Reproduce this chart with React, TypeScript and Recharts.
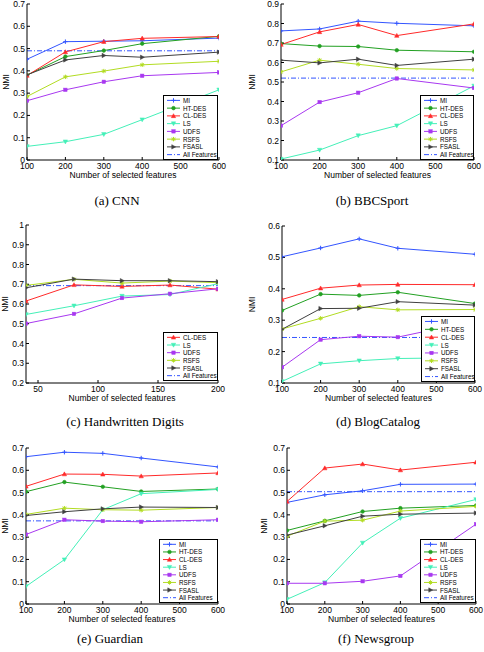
import React from 'react';
import { LineChart, Line, XAxis, YAxis, ReferenceLine, Legend } from 'recharts';

// ---------- shared axes ----------
const X_STD = [100, 200, 300, 400, 600];
const X_DIGITS = [40, 80, 120, 160, 200];
const X_TICKS_STD = [100, 200, 300, 400, 500, 600];
const X_TICKS_DIGITS = [50, 100, 150, 200];
const Y_TICKS_A = [0, 0.1, 0.2, 0.3, 0.4, 0.5, 0.6, 0.7];
const Y_TICKS_B = [0.1, 0.2, 0.3, 0.4, 0.5, 0.6, 0.7, 0.8, 0.9];
const Y_TICKS_C = [0.2, 0.3, 0.4, 0.5, 0.6, 0.7, 0.8, 0.9, 1];
const Y_TICKS_D = [0.1, 0.2, 0.3, 0.4, 0.5, 0.6];
const Y_TICKS_EF = [0, 0.1, 0.2, 0.3, 0.4, 0.5, 0.6, 0.7];

// ---------- (a) CNN ----------
const CNN_MI = [0.452, 0.531, 0.533, 0.535, 0.547];
const CNN_HTDES = [0.381, 0.464, 0.491, 0.522, 0.555];
const CNN_CLDES = [0.379, 0.485, 0.531, 0.546, 0.554];
const CNN_LS = [0.061, 0.082, 0.115, 0.181, 0.315];
const CNN_UDFS = [0.266, 0.315, 0.351, 0.378, 0.393];
const CNN_RSFS = [0.285, 0.373, 0.399, 0.427, 0.443];
const CNN_FSASL = [0.382, 0.449, 0.469, 0.461, 0.484];
const CNN_ALL = 0.49;

// ---------- (b) BBCSport ----------
const BBC_MI = [0.762, 0.772, 0.812, 0.801, 0.788];
const BBC_HTDES = [0.697, 0.684, 0.682, 0.663, 0.655];
const BBC_CLDES = [0.692, 0.757, 0.795, 0.738, 0.798];
const BBC_LS = [0.105, 0.151, 0.225, 0.276, 0.48];
const BBC_UDFS = [0.276, 0.397, 0.445, 0.518, 0.469];
const BBC_RSFS = [0.552, 0.612, 0.591, 0.569, 0.562];
const BBC_FSASL = [0.612, 0.598, 0.617, 0.585, 0.617];
const BBC_ALL = 0.52;

// ---------- (c) Handwritten Digits ----------
const DIG_CLDES = [0.615, 0.697, 0.689, 0.696, 0.675];
const DIG_LS = [0.547, 0.591, 0.64, 0.648, 0.703];
const DIG_UDFS = [0.501, 0.55, 0.63, 0.652, 0.677];
const DIG_RSFS = [0.694, 0.725, 0.706, 0.716, 0.708];
const DIG_FSASL = [0.682, 0.726, 0.718, 0.718, 0.713];
const DIG_ALL = 0.693;

// ---------- (d) BlogCatalog ----------
const BLOG_MI = [0.502, 0.53, 0.559, 0.529, 0.51];
const BLOG_HTDES = [0.331, 0.383, 0.379, 0.389, 0.353];
const BLOG_CLDES = [0.366, 0.402, 0.412, 0.414, 0.413];
const BLOG_LS = [0.105, 0.161, 0.171, 0.178, 0.181];
const BLOG_UDFS = [0.15, 0.238, 0.249, 0.246, 0.298];
const BLOG_RSFS = [0.272, 0.306, 0.343, 0.333, 0.334];
const BLOG_FSASL = [0.271, 0.337, 0.338, 0.359, 0.348];
const BLOG_ALL = 0.245;

// ---------- (e) Guardian ----------
const GUA_MI = [0.661, 0.681, 0.676, 0.655, 0.615];
const GUA_HTDES = [0.504, 0.547, 0.526, 0.505, 0.516];
const GUA_CLDES = [0.528, 0.583, 0.582, 0.574, 0.588];
const GUA_LS = [0.079, 0.199, 0.423, 0.495, 0.514];
const GUA_UDFS = [0.312, 0.378, 0.372, 0.369, 0.378];
const GUA_RSFS = [0.402, 0.43, 0.423, 0.421, 0.433];
const GUA_FSASL = [0.397, 0.414, 0.427, 0.435, 0.433];
const GUA_ALL = 0.373;

// ---------- (f) Newsgroup ----------
const NEWS_MI = [0.456, 0.49, 0.508, 0.537, 0.538];
const NEWS_HTDES = [0.33, 0.373, 0.415, 0.43, 0.442];
const NEWS_CLDES = [0.46, 0.61, 0.628, 0.601, 0.636];
const NEWS_LS = [0.021, 0.096, 0.274, 0.385, 0.469];
const NEWS_UDFS = [0.093, 0.093, 0.102, 0.126, 0.358];
const NEWS_RSFS = [0.304, 0.372, 0.376, 0.417, 0.438];
const NEWS_FSASL = [0.309, 0.351, 0.394, 0.403, 0.408];
const NEWS_ALL = 0.504;

// ---------- styles ----------
const STYLE: Record<string, { color: string; marker: string }> = {
  MI: { color: '#3355ff', marker: 'plus' },
  'HT-DES': { color: '#22a022', marker: 'circle' },
  'CL-DES': { color: '#ff2a2a', marker: 'up' },
  LS: { color: '#44f0b8', marker: 'down' },
  UDFS: { color: '#a838f0', marker: 'square' },
  RSFS: { color: '#b2dc22', marker: 'star' },
  FSASL: { color: '#404040', marker: 'right' },
};
const ALL_COLOR = '#3355ff';
const ALL_DASH = '5 2 1 2';
const FONT = '"Liberation Sans", Arial, sans-serif';

function Marker({ cx, cy, type, color }: { cx: number; cy: number; type: string; color: string }) {
  if (cx == null || cy == null || isNaN(cx) || isNaN(cy)) return null;
  const s = 2.2;
  switch (type) {
    case 'plus':
      return (
        <g stroke={color} strokeWidth={1}>
          <line x1={cx - s} y1={cy} x2={cx + s} y2={cy} />
          <line x1={cx} y1={cy - s} x2={cx} y2={cy + s} />
        </g>
      );
    case 'circle':
      return <circle cx={cx} cy={cy} r={1.8} fill={color} stroke={color} strokeWidth={0.6} />;
    case 'up':
      return <polygon points={`${cx},${cy - s} ${cx - s},${cy + s * 0.8} ${cx + s},${cy + s * 0.8}`} fill={color} stroke={color} strokeWidth={0.5} />;
    case 'down':
      return <polygon points={`${cx},${cy + s} ${cx - s},${cy - s * 0.8} ${cx + s},${cy - s * 0.8}`} fill={color} stroke={color} strokeWidth={0.5} />;
    case 'right':
      return <polygon points={`${cx + s},${cy} ${cx - s * 0.8},${cy - s} ${cx - s * 0.8},${cy + s}`} fill={color} stroke={color} strokeWidth={0.5} />;
    case 'square':
      return <rect x={cx - 1.7} y={cy - 1.7} width={3.4} height={3.4} fill={color} stroke={color} strokeWidth={0.5} />;
    case 'star':
      return (
        <g stroke={color} strokeWidth={1}>
          <line x1={cx - s} y1={cy} x2={cx + s} y2={cy} />
          <line x1={cx} y1={cy - s} x2={cx} y2={cy + s} />
          <line x1={cx - 1.6} y1={cy - 1.6} x2={cx + 1.6} y2={cy + 1.6} />
          <line x1={cx - 1.6} y1={cy + 1.6} x2={cx + 1.6} y2={cy - 1.6} />
        </g>
      );
    default:
      return null;
  }
}

type SeriesDef = { name: string; values: number[] };
type PanelDef = {
  left: number;
  top: number;
  plot: { l: number; r: number; t: number; b: number };
  xs: number[];
  xDomain: [number, number];
  xTicks: number[];
  yTicks: number[];
  series: SeriesDef[];
  all: number;
  legend: { x: number; y: number; w: number; h: number };
  caption: string;
  capX: number;
  capY: number;
  nmiX: number;
};

const PANELS: PanelDef[] = [
  {
    left: 0, top: 0, plot: { l: 27, r: 219, t: 4, b: 160 },
    xs: X_STD, xDomain: [100, 600], xTicks: X_TICKS_STD, yTicks: Y_TICKS_A,
    series: [
      { name: 'MI', values: CNN_MI }, { name: 'HT-DES', values: CNN_HTDES }, { name: 'CL-DES', values: CNN_CLDES },
      { name: 'LS', values: CNN_LS }, { name: 'UDFS', values: CNN_UDFS }, { name: 'RSFS', values: CNN_RSFS },
      { name: 'FSASL', values: CNN_FSASL },
    ],
    all: CNN_ALL, legend: { x: 163, y: 95, w: 55, h: 65 }, caption: '(a) CNN', capX: 117, capY: 205, nmiX: 6,
  },
  {
    left: 242, top: 0, plot: { l: 281, r: 474, t: 4, b: 160 },
    xs: X_STD, xDomain: [100, 600], xTicks: X_TICKS_STD, yTicks: Y_TICKS_B,
    series: [
      { name: 'MI', values: BBC_MI }, { name: 'HT-DES', values: BBC_HTDES }, { name: 'CL-DES', values: BBC_CLDES },
      { name: 'LS', values: BBC_LS }, { name: 'UDFS', values: BBC_UDFS }, { name: 'RSFS', values: BBC_RSFS },
      { name: 'FSASL', values: BBC_FSASL },
    ],
    all: BBC_ALL, legend: { x: 420, y: 95, w: 54, h: 65 }, caption: '(b) BBCSport', capX: 372, capY: 205, nmiX: 252,
  },
  {
    left: 0, top: 215, plot: { l: 26, r: 218, t: 225, b: 383 },
    xs: X_DIGITS, xDomain: [40, 200], xTicks: X_TICKS_DIGITS, yTicks: Y_TICKS_C,
    series: [
      { name: 'CL-DES', values: DIG_CLDES }, { name: 'LS', values: DIG_LS }, { name: 'UDFS', values: DIG_UDFS },
      { name: 'RSFS', values: DIG_RSFS }, { name: 'FSASL', values: DIG_FSASL },
    ],
    all: DIG_ALL, legend: { x: 163, y: 332, w: 55, h: 49 }, caption: '(c) Handwritten Digits', capX: 125, capY: 426, nmiX: 5,
  },
  {
    left: 242, top: 215, plot: { l: 282, r: 475, t: 226, b: 383 },
    xs: X_STD, xDomain: [100, 600], xTicks: X_TICKS_STD, yTicks: Y_TICKS_D,
    series: [
      { name: 'MI', values: BLOG_MI }, { name: 'HT-DES', values: BLOG_HTDES }, { name: 'CL-DES', values: BLOG_CLDES },
      { name: 'LS', values: BLOG_LS }, { name: 'UDFS', values: BLOG_UDFS }, { name: 'RSFS', values: BLOG_RSFS },
      { name: 'FSASL', values: BLOG_FSASL },
    ],
    all: BLOG_ALL, legend: { x: 421, y: 316, w: 54, h: 66 }, caption: '(d) BlogCatalog', capX: 378, capY: 426, nmiX: 252,
  },
  {
    left: 0, top: 430, plot: { l: 26, r: 218, t: 448, b: 604 },
    xs: X_STD, xDomain: [100, 600], xTicks: X_TICKS_STD, yTicks: Y_TICKS_EF,
    series: [
      { name: 'MI', values: GUA_MI }, { name: 'HT-DES', values: GUA_HTDES }, { name: 'CL-DES', values: GUA_CLDES },
      { name: 'LS', values: GUA_LS }, { name: 'UDFS', values: GUA_UDFS }, { name: 'RSFS', values: GUA_RSFS },
      { name: 'FSASL', values: GUA_FSASL },
    ],
    all: GUA_ALL, legend: { x: 159, y: 539, w: 59, h: 64 }, caption: '(e) Guardian', capX: 110, capY: 643, nmiX: 5,
  },
  {
    left: 242, top: 430, plot: { l: 287, r: 476, t: 448, b: 604 },
    xs: X_STD, xDomain: [100, 600], xTicks: X_TICKS_STD, yTicks: Y_TICKS_EF,
    series: [
      { name: 'MI', values: NEWS_MI }, { name: 'HT-DES', values: NEWS_HTDES }, { name: 'CL-DES', values: NEWS_CLDES },
      { name: 'LS', values: NEWS_LS }, { name: 'UDFS', values: NEWS_UDFS }, { name: 'RSFS', values: NEWS_RSFS },
      { name: 'FSASL', values: NEWS_FSASL },
    ],
    all: NEWS_ALL, legend: { x: 420, y: 539, w: 56, h: 64 }, caption: '(f) Newsgroup', capX: 376, capY: 643, nmiX: 264,
  },
];

const fmt = (v: number) => String(Math.round(v * 10) / 10);

function LegendBox({ names, w, h }: { names: string[]; w: number; h: number }) {
  const rows = [...names.map((n) => ({ name: n, all: false })), { name: 'All Features', all: true }];
  const pad = 1.5;
  const rowH = (h - 2 * pad) / rows.length;
  return (
    <svg width={w} height={h} style={{ display: 'block' }}>
      <rect x={0.5} y={0.5} width={w - 1} height={h - 1} fill="#fff" stroke="#000" strokeWidth={1} />
      {rows.map((r, i) => {
        const cy = pad + rowH * (i + 0.5);
        const color = r.all ? ALL_COLOR : STYLE[r.name].color;
        return (
          <g key={r.name}>
            <line x1={4} y1={cy} x2={17} y2={cy} stroke={color} strokeWidth={1} strokeDasharray={r.all ? ALL_DASH : undefined} />
            {!r.all && <Marker cx={10.5} cy={cy} type={STYLE[r.name].marker} color={color} />}
            <text x={20} y={cy} dominantBaseline="central" fontSize={6.3} fontFamily={FONT} fill="#000">
              {r.name}
            </text>
          </g>
        );
      })}
    </svg>
  );
}

function Panel({ p }: { p: PanelDef }) {
  const data = p.xs.map((x, i) => {
    const row: Record<string, number> = { x };
    p.series.forEach((s) => {
      row[s.name] = s.values[i];
    });
    return row;
  });
  const yW = 30;
  const xH = 30;
  const chartW = 242;
  const chartH = p.plot.b - p.top + xH;
  const margin = {
    top: p.plot.t - p.top,
    right: p.left + chartW - p.plot.r,
    bottom: 0,
    left: p.plot.l - p.left - yW,
  };
  const yDomain: [number, number] = [p.yTicks[0], p.yTicks[p.yTicks.length - 1]];
  const tickStyle = { fill: '#000', fontSize: 8.5, fontFamily: FONT };
  const nmiOffset = p.plot.l - p.nmiX;
  return (
    <div style={{ position: 'absolute', left: p.left, top: p.top, width: chartW, height: chartH }}>
      <LineChart width={chartW} height={chartH} data={data} margin={margin}>
        <XAxis
          dataKey="x" type="number" domain={p.xDomain} ticks={p.xTicks} interval={0} allowDataOverflow
          height={xH} tickSize={-3} tickMargin={5.5} stroke="#000" tick={tickStyle}
          label={{
            content: (props: any) => {
              const vb = props.viewBox || {};
              return (
                <text x={vb.x + vb.width / 2} y={vb.y + 18} textAnchor="middle" fontSize={8.5} fontFamily={FONT} fill="#000">
                  Number of selected features
                </text>
              );
            },
          }}
        />
        <XAxis xAxisId="top" orientation="top" dataKey="x" type="number" domain={p.xDomain} ticks={p.xTicks} interval={0}
          allowDataOverflow height={0} tickSize={-3} tick={false} stroke="#000" />
        <YAxis
          type="number" domain={yDomain} ticks={p.yTicks} interval={0} allowDataOverflow width={yW}
          tickSize={-3} tickMargin={5} stroke="#000" tick={tickStyle} tickFormatter={fmt}
          label={{
            content: (props: any) => {
              const vb = props.viewBox || {};
              const cx = vb.x + vb.width - nmiOffset;
              const cy = vb.y + vb.height / 2;
              return (
                <text transform={`translate(${cx},${cy}) rotate(-90)`} textAnchor="middle" dominantBaseline="central" fontSize={8.5} fontFamily={FONT} fill="#000">
                  NMI
                </text>
              );
            },
          }}
        />
        <YAxis yAxisId="right" orientation="right" type="number" domain={yDomain} ticks={p.yTicks} interval={0}
          allowDataOverflow width={0} tickSize={-3} tick={false} stroke="#000" />
        <ReferenceLine y={p.all} stroke={ALL_COLOR} strokeWidth={1} strokeDasharray={ALL_DASH} ifOverflow="extendDomain" />
        {p.series.map((s) => {
          const st = STYLE[s.name];
          return (
            <Line
              key={s.name}
              dataKey={s.name}
              stroke={st.color}
              strokeWidth={1}
              isAnimationActive={false}
              dot={(dp: any) => <Marker key={`${s.name}-${dp.index}`} cx={dp.cx} cy={dp.cy} type={st.marker} color={st.color} />}
              activeDot={false}
            />
          );
        })}
        <Legend
          layout="vertical" align="center" verticalAlign="middle"
          wrapperStyle={{ position: 'absolute', left: p.legend.x - p.left, top: p.legend.y - p.top, width: p.legend.w, height: p.legend.h, bottom: 'auto', right: 'auto' }}
          content={() => <LegendBox names={p.series.map((s) => s.name)} w={p.legend.w} h={p.legend.h} />}
        />
      </LineChart>
    </div>
  );
}

export default function App() {
  return (
    <div style={{ position: 'absolute', left: 0, top: 0, width: 484, height: 652, background: '#fff', overflow: 'hidden' }}>
      {PANELS.map((p, i) => (
        <Panel key={i} p={p} />
      ))}
      {PANELS.map((p, i) => (
        <div
          key={`cap-${i}`}
          style={{
            position: 'absolute', left: p.capX - 120, top: p.capY - 11, width: 240, textAlign: 'center',
            fontFamily: '"Liberation Serif", "Times New Roman", serif', fontSize: 13, lineHeight: 1, color: '#000', whiteSpace: 'nowrap',
          }}
        >
          {p.caption}
        </div>
      ))}
    </div>
  );
}
